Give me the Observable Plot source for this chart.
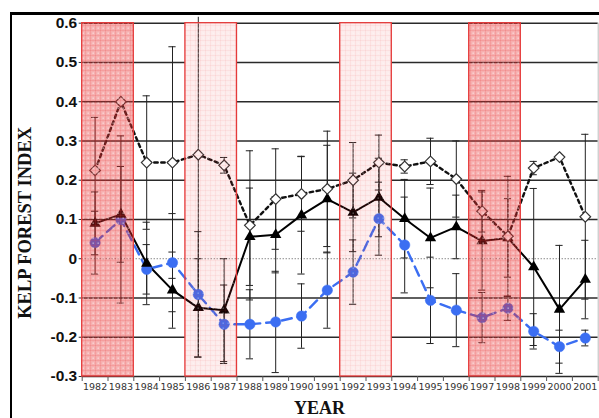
<!DOCTYPE html>
<html>
<head>
<meta charset="utf-8">
<script src="https://cdn.jsdelivr.net/npm/d3@7"></script>
<script src="https://cdn.jsdelivr.net/npm/@observablehq/plot@0.6"></script>
<style>
  html, body { margin: 0; padding: 0; background: #fff; }
  #chart { width: 599px; height: 418px; overflow: hidden; }
</style>
</head>
<body>
<div id="chart"></div>
<script>
// ---- data ----
const years = [1982, 1983, 1984, 1985, 1986, 1987, 1988, 1989, 1990, 1991,
               1992, 1993, 1994, 1995, 1996, 1997, 1998, 1999, 2000, 2001];

// open diamonds, short-dashed black line
const diamondValues = [0.225, 0.400, 0.245, 0.245, 0.265, 0.238, 0.085, 0.152, 0.165, 0.178,
                       0.200, 0.245, 0.235, 0.248, 0.203, 0.121, 0.057, 0.231, 0.259, 0.107];
const diamondErrors = [0.135, 0.000, 0.170, 0.295, 0.350, 0.020, 0.190, 0.128, 0.095, 0.147,
                       0.096, 0.070, 0.017, 0.059, 0.097, 0.053, 0.153, 0.017, 0.000, 0.210];

// filled triangles, solid black line
const triangleValues = [0.090, 0.113, -0.012, -0.080, -0.125, -0.131, 0.056, 0.061, 0.111, 0.152,
                        0.118, 0.156, 0.102, 0.053, 0.081, 0.045, 0.053, -0.021, -0.129, -0.053];
const triangleErrors = [0.080, 0.122, 0.105, 0.097, 0.125, 0.131, 0.124, 0.097, 0.150, 0.137,
                        0.100, 0.100, 0.100, 0.127, 0.081, 0.125, 0.100, 0.200, 0.163, 0.100];

// blue circles, long-dashed blue line
const circleValues = [0.041, 0.100, -0.027, -0.010, -0.091, -0.167, -0.167, -0.161, -0.146, -0.080,
                      -0.034, 0.102, 0.035, -0.106, -0.131, -0.150, -0.126, -0.185, -0.224, -0.202];
const circleErrors = [0.080, 0.213, 0.063, 0.125, 0.160, 0.100, 0.088, 0.129, 0.082, 0.097,
                      0.082, 0.093, 0.122, 0.110, 0.093, 0.064, 0.031, 0.045, 0.042, 0.020];

// shaded periods
const bandStarts = [1982, 1986, 1992, 1997];
const bandEnds   = [1983, 1987, 1993, 1998];
const bandKinds  = ["dark", "light", "light", "dark"];

const yTicks = [-0.3, -0.2, -0.1, 0, 0.1, 0.2, 0.3, 0.4, 0.5, 0.6];
const yTitle = "KELP FOREST INDEX";
const xTitle = "YEAR";

// ---- tables built from the arrays ----
const rows = years.map((year, i) => ({
  year,
  d: diamondValues[i], dE: diamondErrors[i],
  t: triangleValues[i], tE: triangleErrors[i],
  c: circleValues[i], cE: circleErrors[i]
}));
const errRows = [];
rows.forEach(r => {
  if (r.dE > 0) errRows.push({year: r.year, lo: r.d - r.dE, hi: r.d + r.dE});
  if (r.tE > 0) errRows.push({year: r.year, lo: r.t - r.tE, hi: r.t + r.tE});
  if (r.cE > 0) errRows.push({year: r.year, lo: r.c - r.cE, hi: r.c + r.cE});
});
const yMin = yTicks[0], yMax = yTicks[yTicks.length - 1];
const capRows = errRows.flatMap(e => [{year: e.year, v: e.lo}, {year: e.year, v: e.hi}])
  .filter(c => c.v <= yMax && c.v >= yMin);
const bands = bandStarts.map((s, i) => ({start: s, end: bandEnds[i], kind: bandKinds[i]}));
const halfYears = [years[0] - 0.5, ...years.map(y => y + 0.5)];
const capHalf = 0.14;

const blue = "#3b6ef2";

const plot = Plot.plot({
  width: 599,
  height: 418,
  marginLeft: 81.7,
  marginRight: 1.3,
  marginTop: 22.7,
  marginBottom: 42,
  style: {background: "#fff", fontFamily: "Arial, 'Liberation Sans', sans-serif", overflow: "visible"},
  x: {domain: [years[0] - 0.5, years[years.length - 1] + 0.5], axis: null},
  y: {domain: [yMin, yMax], axis: null},
  marks: [
    // gridlines
    Plot.ruleY(yTicks.filter(v => v !== 0), {stroke: "#2a2a2a", strokeWidth: 1.4}),
    // opaque base of light bands (hides grid)
    Plot.rect(bands.filter(b => b.kind === "light"), {
      x1: b => b.start - 0.5, x2: b => b.end + 0.5, y1: yMin, y2: yMax, fill: "#fff"
    }),
    Plot.ruleY([0], {stroke: "#555", strokeWidth: 1, strokeDasharray: "1,2"}),
    Plot.ruleX([halfYears[halfYears.length - 1]], {stroke: "#bbb", strokeWidth: 1}),
    // y axis
    Plot.axisY({ticks: yTicks, tickSize: 3, tickPadding: 2, stroke: "#333",
      tickFormat: d => d === 0 ? "0" : d.toFixed(1),
      fontSize: 15.5, fontWeight: "bold", fill: "#111", label: null}),
    // x axis: ticks between years, labels centered
    Plot.axisX({ticks: halfYears, tickSize: 5, stroke: "#555", tickFormat: () => "", label: null}),
    Plot.axisX({ticks: years, tickSize: 0, tickPadding: 7, tickFormat: d => String(d),
      fontSize: 9.5, fontFamily: "'DejaVu Sans', Verdana, sans-serif", fill: "#333", label: null}),
    // error bars
    Plot.ruleX(errRows, {x: "year", y1: "lo", y2: e => Math.min(e.hi, yMax + 0.015), stroke: "#222", strokeWidth: 1}),
    Plot.ruleY(capRows, {y: "v", x1: c => c.year - capHalf, x2: c => c.year + capHalf, stroke: "#222", strokeWidth: 1}),
    // lines
    Plot.line(rows, {x: "year", y: "c", stroke: blue, strokeWidth: 2.4, strokeDasharray: "10,6"}),
    Plot.line(rows, {x: "year", y: "t", stroke: "#000", strokeWidth: 2}),
    Plot.line(rows, {x: "year", y: "d", stroke: "#111", strokeWidth: 2.4, strokeDasharray: "3.5,3.5"}),
    // symbols
    Plot.dot(rows, {x: "year", y: "c", r: 5.2, fill: blue, stroke: blue, strokeWidth: 0.5}),
    Plot.dot(rows, {x: "year", y: "t", symbol: "triangle", r: 4.2, fill: "#000"}),
    Plot.dot(rows, {x: "year", y: "d", symbol: "diamond2", r: 4.8, fill: "#fff", stroke: "#333", strokeWidth: 1.2}),
    // translucent band overlays
    Plot.rect(bands.filter(b => b.kind === "dark"), {
      x1: b => b.start - 0.5, x2: b => b.end + 0.5, y1: yMin, y2: yMax,
      fill: "url(#darkPat)", stroke: "#e53a3a", strokeWidth: 1.3
    }),
    Plot.rect(bands.filter(b => b.kind === "light"), {
      x1: b => b.start - 0.5, x2: b => b.end + 0.5, y1: yMin, y2: yMax,
      fill: "url(#lightPat)", stroke: "#e53a3a", strokeWidth: 1.3
    }),
    // titles
    Plot.text([yTitle], {frameAnchor: "left", dx: -56.7, dy: 23, rotate: -90, textAnchor: "middle",
      lineAnchor: "middle", fontSize: 18.5, fontWeight: "bold",
      fontFamily: "'Liberation Serif', 'Times New Roman', serif", fill: "#111"}),
    Plot.text([xTitle], {frameAnchor: "bottom", dx: -20.7, dy: 37, textAnchor: "middle",
      lineAnchor: "bottom", fontSize: 18, fontWeight: "bold",
      fontFamily: "'Liberation Serif', 'Times New Roman', serif", fill: "#111"})
  ]
});

document.getElementById("chart").appendChild(plot);

const svg = d3.select(plot);
const defs = svg.insert("defs", ":first-child");
function makePattern(id, alpha, gridAlpha, dotAlpha) {
  const p = defs.append("pattern").attr("id", id).attr("patternUnits", "userSpaceOnUse")
    .attr("width", 5).attr("height", 5);
  p.append("rect").attr("width", 5).attr("height", 5).attr("fill", `rgba(232,44,44,${alpha})`);
  p.append("rect").attr("x", 0).attr("y", 0).attr("width", 5).attr("height", 0.8).attr("fill", `rgba(232,44,44,${gridAlpha})`);
  p.append("rect").attr("x", 0).attr("y", 0).attr("width", 0.8).attr("height", 5).attr("fill", `rgba(232,44,44,${gridAlpha})`);
  p.append("rect").attr("x", 2.6).attr("y", 2.6).attr("width", 1.1).attr("height", 1.1).attr("fill", `rgba(255,255,255,${dotAlpha})`);
}
makePattern("darkPat", 0.38, 0.18, 0.8);
makePattern("lightPat", 0.09, 0.08, 0.5);

// outer frame of the figure
svg.append("line").attr("x1", 10).attr("x2", 599).attr("y1", 13.5).attr("y2", 13.5)
  .attr("stroke", "#000").attr("stroke-width", 3);
svg.append("line").attr("x1", 11).attr("x2", 11).attr("y1", 12).attr("y2", 418)
  .attr("stroke", "#000").attr("stroke-width", 2);
</script>
</body>
</html>
